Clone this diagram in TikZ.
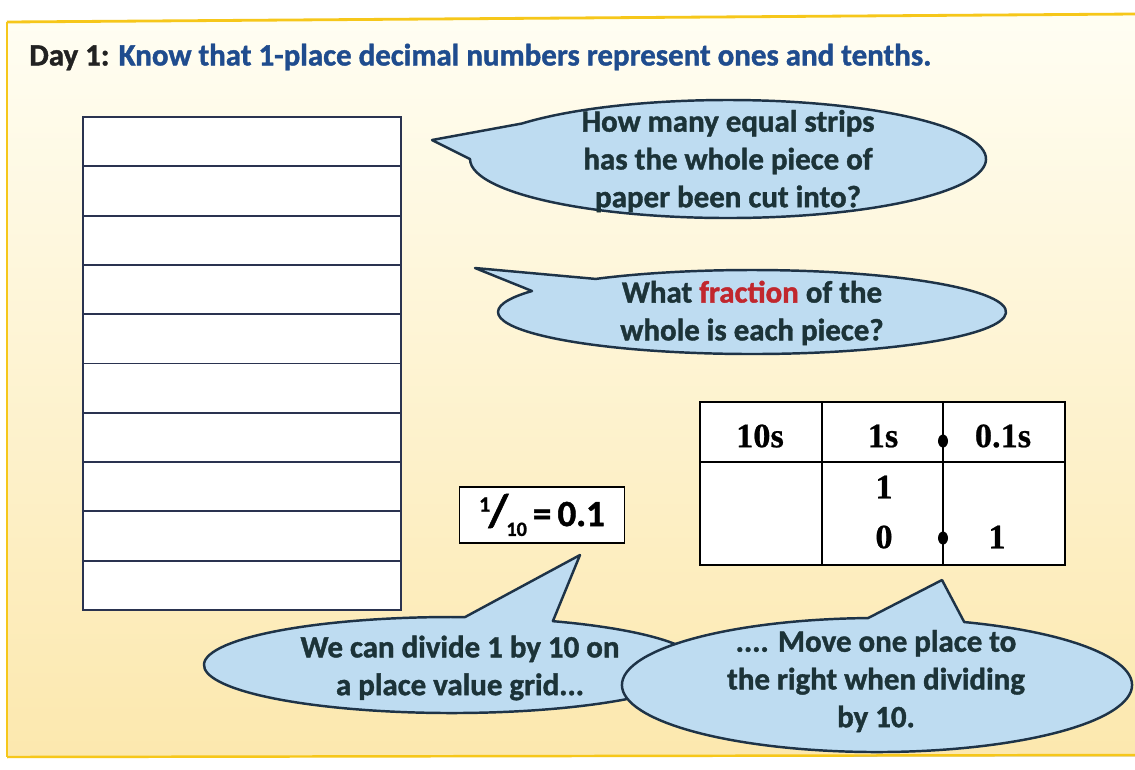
\documentclass[tikz,border=0pt]{standalone}
\usepackage{fontspec}
\setmainfont{Carlito}
\newfontfamily\heavy{Carlito}[BoldFeatures={FakeBold=1.3}]
\newfontfamily\tablefont{Liberation Serif}[BoldFeatures={FakeBold=0.6}]
\usetikzlibrary{calc,shapes.geometric}
\definecolor{panelTop}{HTML}{FFFEF3}
\definecolor{panelBot}{HTML}{FCE8AE}
\definecolor{panelLine}{HTML}{F6C71A}
\definecolor{bubbleFill}{HTML}{BEDCF1}
\definecolor{bubbleLine}{HTML}{1E3347}
\definecolor{bubbleText}{HTML}{1C3338}
\definecolor{titleBlue}{HTML}{1F4C8E}
\definecolor{titleBlack}{HTML}{222222}
\definecolor{fracRed}{HTML}{C1272D}
\definecolor{stripLine}{HTML}{2A3350}
\tikzset{
  stripbox/.style={draw=stripLine, fill=white, line width=1.1pt, anchor=north west,
    minimum width=6.36cm, minimum height=0.986cm, inner sep=0pt, outer sep=0pt},
  bubble/.style={fill=bubbleFill, draw=bubbleLine, line width=1.4pt, line join=round},
  bubbletext/.style={text=bubbleText, align=center, font=\heavy\fontsize{17.6}{21.5}\selectfont\bfseries},
  gridline/.style={draw=black, line width=0.9pt},
  gridtext/.style={font=\tablefont\fontsize{19.5}{20}\selectfont\bfseries, text=black},
  decdot/.style={ellipse, fill=black, inner sep=0pt, minimum width=0.2cm, minimum height=0.26cm}
}
\begin{document}
\begin{tikzpicture}[x=0.02cm,y=-0.02cm]
\useasboundingbox (0,0) rectangle (1135,769);
\fill[white] (0,0) rectangle (1135,769);
% panel
\fill[top color=panelTop, bottom color=panelBot] (7,22) -- (1135,14) -- (1135,756) -- (7,757) -- cycle;
\draw[panelLine, line width=1.6pt] (7,22) -- (1135,14);
\draw[panelLine, line width=1.2pt] (7,22) -- (7,757);
\draw[panelLine, line width=1.4pt] (7,757) -- (1135,755);
% title
\node[anchor=west, inner sep=0pt, font=\heavy\fontsize{17.6}{20}\selectfont\bfseries] (title) at (29,57)
  {\textcolor{titleBlack}{Day 1:} \textcolor{titleBlue}{Know that 1-place decimal numbers represent ones and tenths.}};
% strips
\foreach \i in {1,...,10} {
  \node[stripbox] (s\i) at (83,{117+49.3*(\i-1)}) {};
}
% bubble 1
\path[bubble] (432,140) -- ([shift={(217:258 and 59)}]728,159)
  arc[start angle=217, end angle=540, x radius=258, y radius=59] -- cycle;
\node[bubbletext] (q1) at (728,161) {How many equal strips\\has the whole piece of\\paper been cut into?};
% bubble 2
\path[bubble] (475,268) -- ([shift={(232:254 and 42)}]752,312)
  arc[start angle=232, end angle=570, x radius=254, y radius=42] -- cycle;
\node[bubbletext] (q2) at (752,313) {What \textcolor{fracRed}{fraction} of the\\whole is each piece?};
% fraction box
\node[draw=black, line width=0.8pt, fill=white, minimum width=3.3cm, minimum height=1.12cm,
  inner sep=0pt, font=\heavy\fontsize{21}{22}\selectfont\bfseries] (frac) at (542,515)
  {\raisebox{0.8ex}{\fontsize{12.5}{13}\selectfont 1}\kern-1pt{\fontsize{26}{26}\selectfont/}\kern-1pt\raisebox{-0.55ex}{\fontsize{11.5}{12}\selectfont 10}\,=\,0.1};
% place value grid
\node[draw=black, line width=0.9pt, fill=white, anchor=north west, minimum width=7.3cm,
  minimum height=3.26cm, inner sep=0pt, outer sep=0pt] (grid) at (700,402) {};
\draw[gridline] (822,402) -- (822,565);
\draw[gridline] (700,462) -- (1065,462);
\draw[line width=1.4pt] (943,402) -- (943,565);
\node[gridtext] (h1) at (760,436) {10s};
\node[gridtext] (h2) at (883,436) {1s};
\node[gridtext] (h3) at (1003,436) {0.1s};
\node[gridtext] (c1) at (884,487) {1};
\node[gridtext] (c2) at (884,537) {0};
\node[gridtext] (c3) at (997,537) {1};
\node[decdot] (d1) at (943,441) {};
\node[decdot] (d2) at (943,538) {};
% bubble 3
\path[bubble] (580,555) -- ([shift={(294:248 and 48)}]452,665)
  arc[start angle=294, end angle=633, x radius=248, y radius=48] -- cycle;
\node[bubbletext] (q3) at (460,668) {We can divide 1 by 10 on\\a place value grid...};
% bubble 4
\path[bubble] (942,580) -- ([shift={(290:255 and 67)}]877,685)
  arc[start angle=290, end angle=628, x radius=255, y radius=67] -- cycle;
\node[bubbletext] (q4) at (876,681) {.... Move one place to\\the right when dividing\\by 10.};
\end{tikzpicture}
\end{document}
